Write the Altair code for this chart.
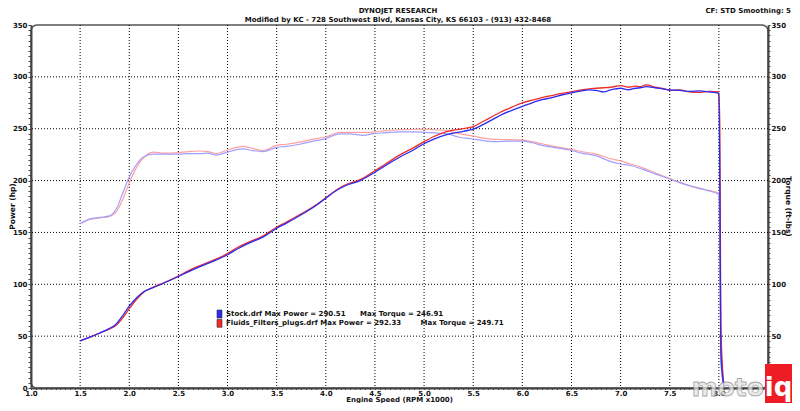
import altair as alt
import pandas as pd

# ---------------- data (read from the dyno sheet) ----------------
rpm_power = [1.50, 1.60, 1.70, 1.80, 1.86, 1.92, 2.00, 2.08, 2.15, 2.25, 2.35,
             2.50, 2.60, 2.72, 2.85, 3.00, 3.10, 3.20, 3.36, 3.50, 3.60, 3.75,
             3.90, 4.00, 4.10, 4.20, 4.35, 4.50, 4.60, 4.75, 4.90, 5.00, 5.10,
             5.24, 5.40, 5.50, 5.60, 5.70, 5.80, 5.90, 6.00, 6.10, 6.20, 6.30,
             6.40, 6.50, 6.60, 6.68, 6.75, 6.83, 6.90, 7.00, 7.08, 7.15, 7.20,
             7.26, 7.35, 7.45, 7.50, 7.60, 7.70, 7.80, 7.90, 8.00, 8.01, 8.02, 8.05]
stock_power = [45.5, 49, 53, 57.5, 61, 68, 79, 87.5, 93, 97, 101,
               107.5, 112, 117, 122, 128.5, 134, 139, 145.5, 154, 159, 167,
               176, 183, 190, 195, 200, 208, 214, 222.5, 230, 235.5, 240,
               244.5, 247.5, 249.5, 254, 259, 264, 268, 271.5, 275, 278, 280,
               282.5, 284.5, 286.5, 287.5, 287, 285.5, 287.5, 289, 287.5, 289, 289.5,
               290.5, 289.5, 288, 287.5, 287, 286, 286.5, 285.5, 284, 190, 35, 2]
fluids_power = [45.5, 49, 53, 57, 60, 66, 76.5, 86, 92.5, 97.5, 101.5,
                108, 113, 118, 123, 129.5, 135.5, 140, 146.5, 155, 160, 168,
                176.5, 183.5, 190.5, 196, 201, 209.5, 215.5, 224.5, 232, 237.5, 242.5,
                247.5, 250, 252, 257, 262, 267, 271, 275, 277.5, 280, 282,
                284, 285.5, 287.5, 288.5, 289, 289.5, 290, 291.5, 290, 291, 290.5,
                292.3, 290, 288.5, 287, 287.5, 285.5, 285, 286, 285.5, 250, 60, 4]

rpm_torque = [1.50, 1.60, 1.70, 1.80, 1.87, 1.93, 2.00, 2.07, 2.14, 2.24, 2.35,
              2.50, 2.60, 2.72, 2.80, 2.89, 3.00, 3.16, 3.25, 3.36, 3.50, 3.60,
              3.73, 3.85, 4.00, 4.14, 4.25, 4.38, 4.50, 4.60, 4.75, 4.90, 5.00,
              5.10, 5.24, 5.35, 5.50, 5.60, 5.73, 5.85, 6.00, 6.10, 6.20, 6.35,
              6.50, 6.60, 6.75, 6.88, 7.00, 7.10, 7.22, 7.35, 7.50, 7.60, 7.77,
              7.90, 8.00, 8.01, 8.02, 8.05]
stock_torque = [158.5, 163, 164.5, 166, 173, 187, 203.5, 215, 222.5, 225.5, 225.5,
                225.5, 226, 226, 226.5, 224.5, 227.5, 230.5, 229, 228, 232, 233,
                235, 237.5, 240.5, 245, 245, 243.5, 245.5, 246, 246.9, 246.9, 246.5,
                246, 245, 242, 240, 238.5, 237.5, 238, 238, 236.5, 234, 231.5,
                229, 226.5, 224, 219, 216, 214.5, 211, 206.5, 201.5, 198, 193.5,
                190, 186.5, 125, 25, 1]
fluids_torque = [158.5, 162.5, 164, 165.5, 170, 181, 198, 212, 221.5, 227.5, 226.5,
                 227, 228, 228.5, 228, 226, 229.5, 233, 231, 229, 234, 235,
                 237, 239.5, 242, 246.5, 246.5, 246.5, 247, 248, 249, 249.5, 249.7,
                 249, 248, 245.5, 243, 241, 239.8, 239.5, 239, 237.5, 235.5, 232.5,
                 230, 228, 225.5, 221.5, 219, 216, 212.5, 207.5, 202, 198.5, 193,
                 190.5, 188, 165, 40, 3]

run_files = ["Stock.drf", "Fluids_Filters_plugs.drf"]
max_power = ["290.51", "292.33"]
max_torque = ["246.91", "249.71"]

x_grid = [1.5, 2.0, 2.5, 3.0, 3.5, 4.0, 4.5, 5.0, 5.5, 6.0, 6.5, 7.0, 7.5, 8.0]
y_grid = [50, 100, 150, 200, 250, 300]
x_ticks = [round(1.0 + 0.05 * i, 2) for i in range(151)]
y_ticks = list(range(0, 355, 5))

title_main = "DYNOJET RESEARCH"
title_sub = "Modified by KC - 728 Southwest Blvd, Kansas City, KS 66103 - (913) 432-8468"
title_cf = "CF: STD  Smoothing: 5"

# ---------------- styling ----------------
FONT = "DejaVu Sans"
W, H = 737, 363
BLUE, RED = "#2b2bf0", "#f02b2b"
LBLUE, PINK = "#a0a0ff", "#ffa0a0"

x_scale = alt.Scale(domain=[1.0, 8.5], nice=False, zero=False)
y_scale = alt.Scale(domain=[0, 350], nice=False)

# labels hidden under the watermark box (8.5, right-hand 0) are left blank
x_axis = alt.Axis(orient="bottom", values=x_ticks,
                  labelExpr="(abs(datum.value * 2 - round(datum.value * 2)) < 0.001 && datum.value < 8.4) ? format(datum.value, '.1f') : ''",
                  labelOverlap=False, labelFlush=False, grid=False,
                  tickSize=1.5, labelPadding=0,
                  title="Engine Speed (RPM x1000)", titleX=368, titleY=11,
                  titleBaseline="middle", titleAlign="center", titleFontSize=7)

y_left = alt.Axis(orient="left", values=y_ticks,
                  labelExpr="datum.value % 50 == 0 ? datum.label : ''",
                  labelOverlap=False, labelFlush=False, grid=False,
                  tickSize=3, labelPadding=1,
                  title="Power (hp)", titleAngle=270, titleX=-19, titleY=181,
                  titleBaseline="middle", titleAlign="center", titleFontSize=7.5)

y_right = alt.Axis(orient="right", values=y_ticks,
                   labelExpr="(datum.value % 50 == 0 && datum.value > 0) ? datum.label : ''",
                   labelOverlap=False, labelFlush=False, grid=False,
                   tickSize=2, labelPadding=1,
                   title="Torque (ft-lbs)", titleAngle=90, titleX=19.5, titleY=181,
                   titleBaseline="middle", titleAlign="center", titleFontSize=7.5)


def line_layer(rpm, vals, color, axis, width):
    df = pd.DataFrame({"rpm": rpm, "val": vals})
    return alt.Chart(df).mark_line(color=color, strokeWidth=width, interpolate="monotone").encode(
        x=alt.X("rpm:Q", scale=x_scale, axis=x_axis),
        y=alt.Y("val:Q", scale=y_scale, axis=axis),
    )


# grid
vgrid = alt.Chart(pd.DataFrame({"g": x_grid})).mark_rule(
    color="black", strokeDash=[1, 2], strokeWidth=1).encode(
    x=alt.X("g:Q", scale=x_scale, axis=x_axis))
hgrid = alt.Chart(pd.DataFrame({"g": y_grid})).mark_rule(
    color="black", strokeDash=[1, 2], strokeWidth=1).encode(
    y=alt.Y("g:Q", scale=y_scale, axis=None))

torque = alt.layer(
    line_layer(rpm_torque, fluids_torque, PINK, y_right, 1.2),
    line_layer(rpm_torque, stock_torque, LBLUE, y_right, 1.2),
)

power = alt.layer(
    line_layer(rpm_power, fluids_power, RED, y_left, 1.3),
    line_layer(rpm_power, stock_power, BLUE, y_left, 1.3),
)


def text_layer(txt, x, y, align="left", size=7, color="#111", **kw):
    return alt.Chart(pd.DataFrame({"t": [txt]})).mark_text(
        font=FONT, fontWeight="bold", fontSize=size, align=align, baseline="middle",
        color=color, **kw).encode(text="t:N", x=alt.value(x), y=alt.value(y))


titles = [
    text_layer(title_main, 367, -14, align="center"),
    text_layer(title_sub, 367, -5.5, align="center"),
    text_layer(title_cf, 760, -14.5, align="right"),
]

leg = []
leg_y = [289, 298.3]
leg_x2 = [329, 389.5]
leg_cols = [BLUE, RED]
for i in range(2):
    leg.append(alt.Chart(pd.DataFrame({"a": [0]})).mark_rect(
        color=leg_cols[i], stroke="#333", strokeWidth=0.6).encode(
        x=alt.value(186), x2=alt.value(191),
        y=alt.value(leg_y[i] - 4), y2=alt.value(leg_y[i] + 4)))
    leg.append(text_layer(f"{run_files[i]} Max Power = {max_power[i]}", 195, leg_y[i]))
    leg.append(text_layer(f"Max Torque = {max_torque[i]}", leg_x2[i], leg_y[i]))

watermark = [
    text_layer("moto", 733, 363, align="right", size=25, color="#e4e4e4",
               stroke="#8a8a8a", strokeWidth=0.8, opacity=0.75),
    alt.Chart(pd.DataFrame({"a": [0]})).mark_rect(color="#ee1c25").encode(
        x=alt.value(734), x2=alt.value(761), y=alt.value(339), y2=alt.value(395)),
    text_layer("iq", 747.5, 363, align="center", size=26, color="white"),
]

chart = alt.layer(
    vgrid, hgrid, torque, power, *leg, *titles, *watermark
).resolve_scale(y="independent").properties(
    width=W, height=H,
    autosize=alt.AutoSizeParams(type="none"),
    padding={"left": 23, "top": 17, "right": 24, "bottom": 15},
    background="white",
).configure_view(
    stroke="#555", strokeWidth=1.5, cornerRadius=6
).configure_axis(
    labelFont=FONT, labelFontWeight="bold", labelFontSize=7, labelColor="#111",
    titleFont=FONT, titleFontWeight="bold", titleColor="#111",
    tickColor="#444", tickWidth=1, domainColor="#444", domainWidth=2,
)

chart.save("out.html", embed_options={"renderer": "svg", "actions": False})
